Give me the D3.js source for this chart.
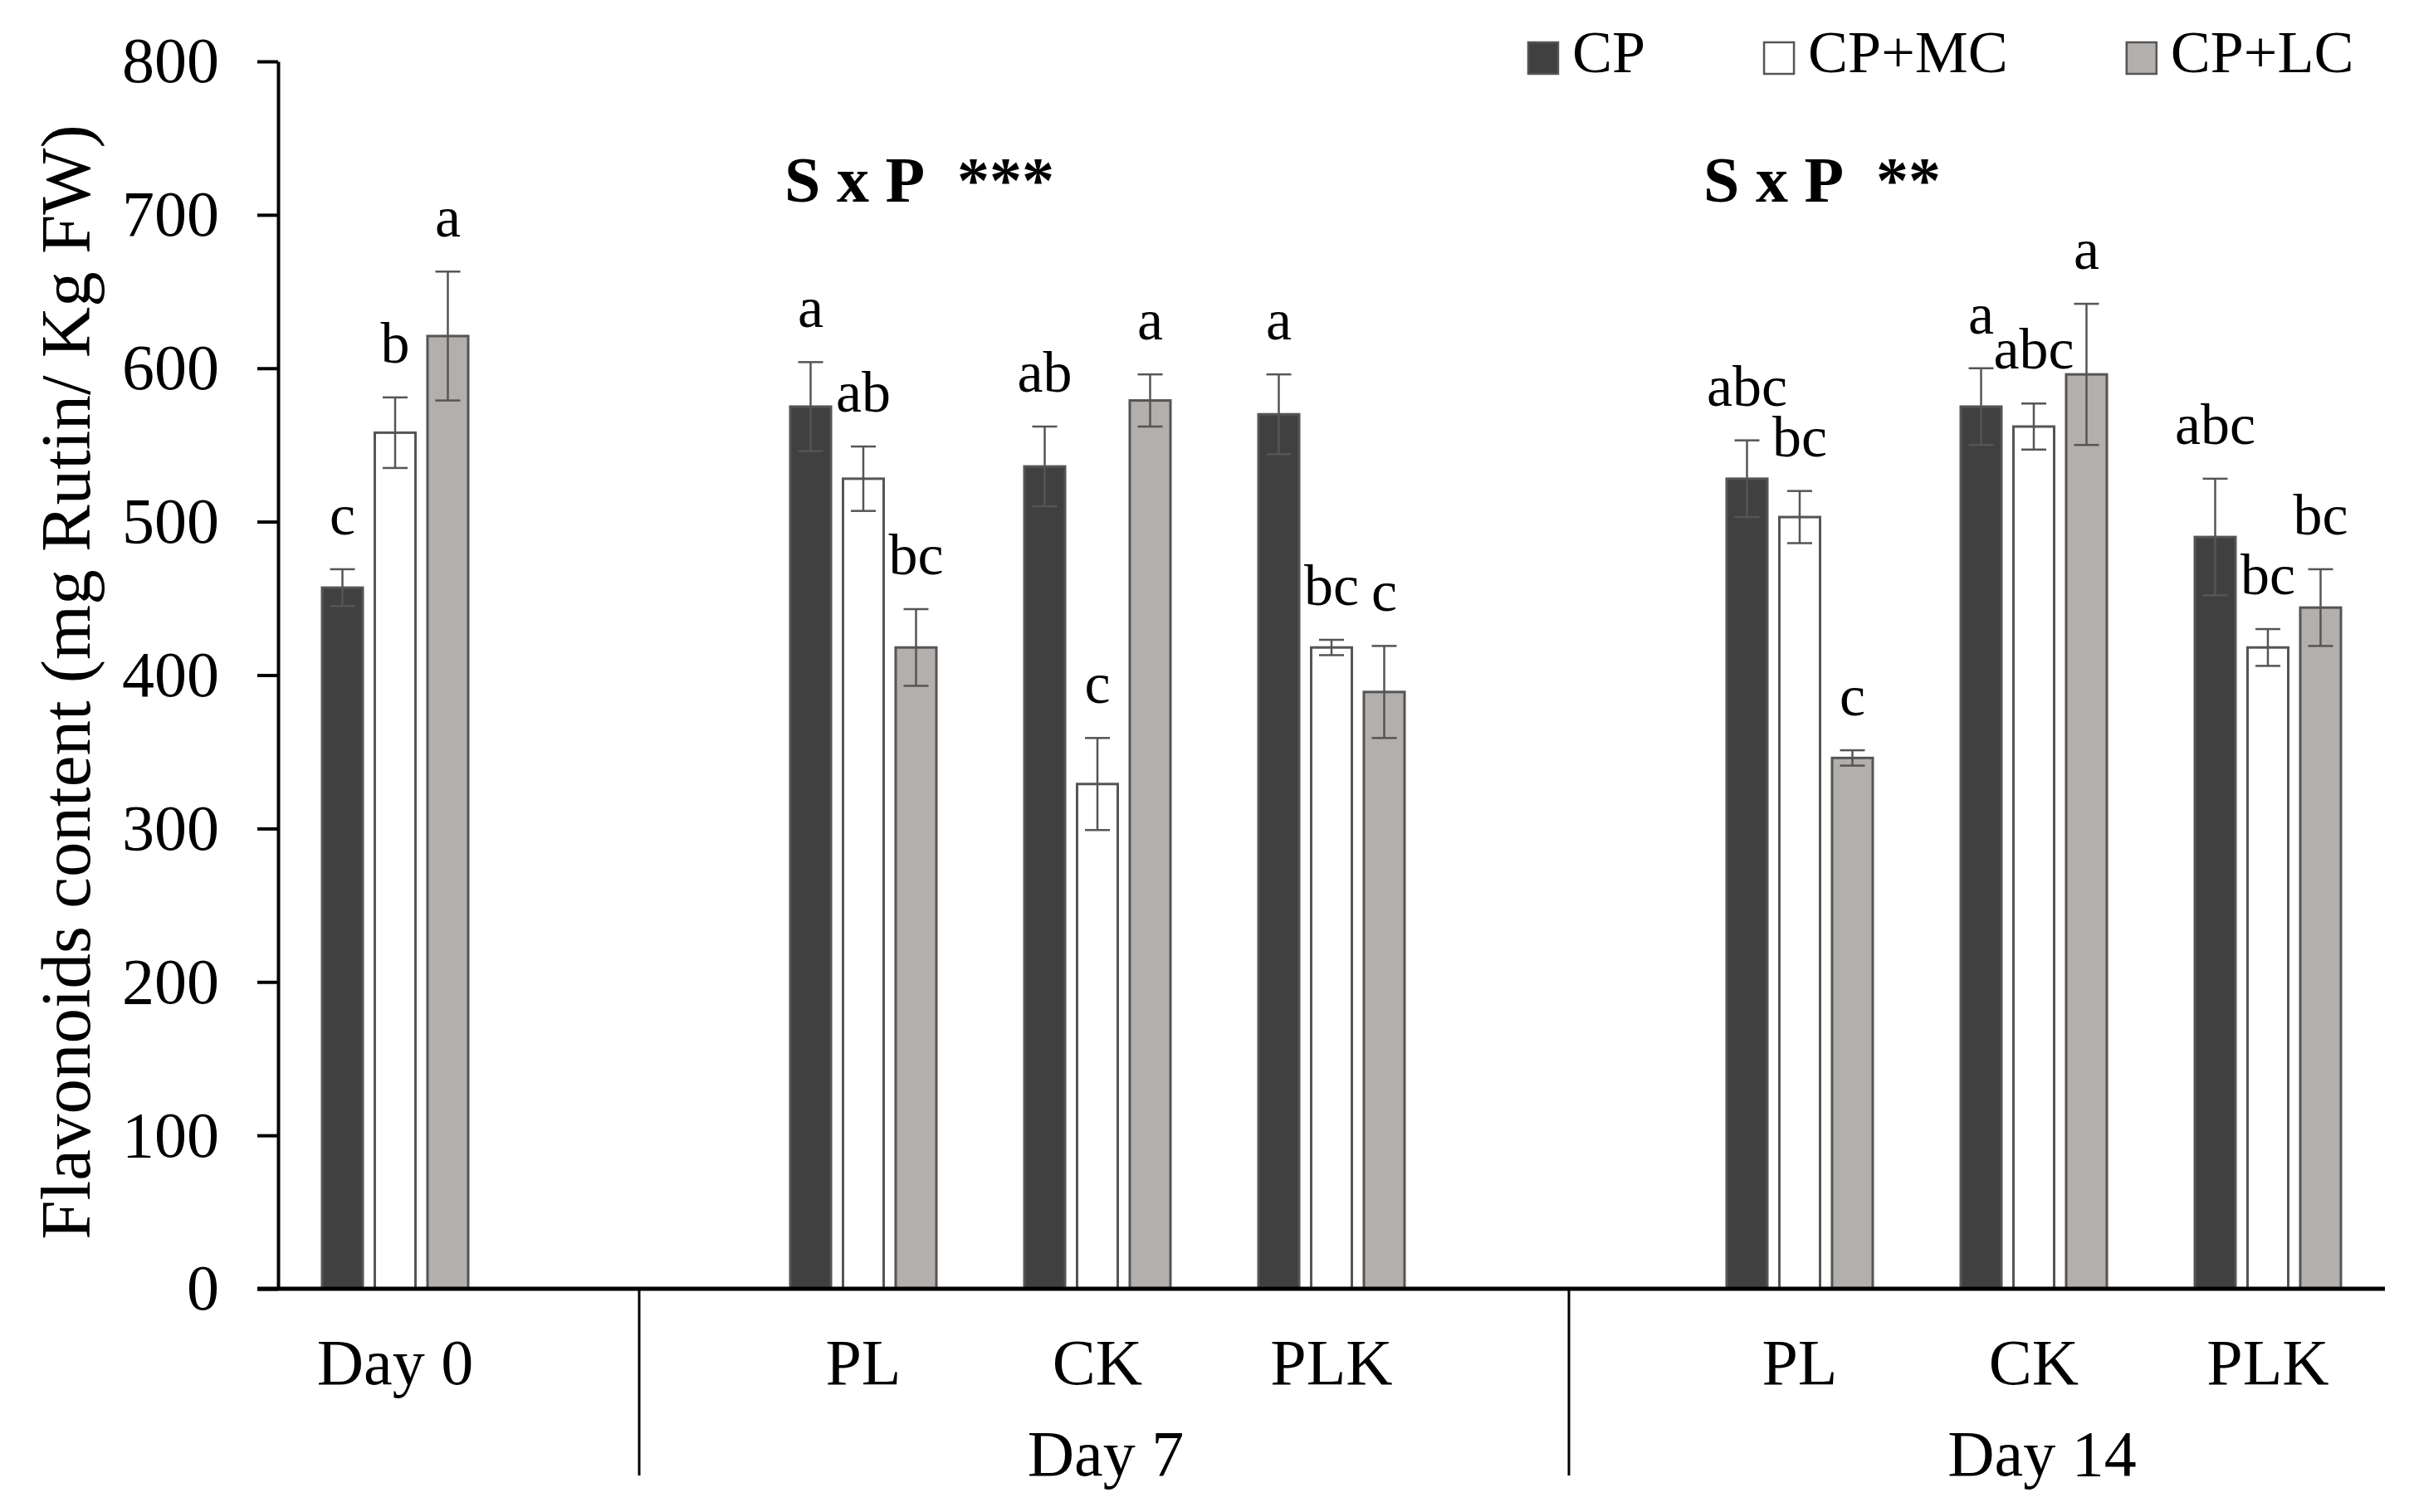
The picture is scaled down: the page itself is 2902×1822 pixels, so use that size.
<!DOCTYPE html>
<html>
<head>
<meta charset="utf-8">
<script src="https://cdn.jsdelivr.net/npm/d3@7"></script>
<style>
  body { margin: 0; background: #fff; }
  text { font-family: "Liberation Serif", "Times New Roman", serif; fill: #000; }
</style>
</head>
<body>
<svg id="chart" width="2902" height="1822"></svg>
<script>
// slots along the x axis, "" = empty gap slot
var slots     = ["d0", "g1", "pl7", "ck7", "plk7", "g2", "pl14", "ck14", "plk14"];
var slotLabel = ["Day 0", "", "PL", "CK", "PLK", "", "PL", "CK", "PLK"];
var groups    = ["Day 7", "Day 14"];
var groupSlot = ["ck7", "ck14"];
var series    = ["CP", "CP+MC", "CP+LC"];
var yTicks    = [0, 100, 200, 300, 400, 500, 600, 700, 800];
var notes     = ["S x P\u00a0\u00a0***", "S x P\u00a0\u00a0**"];

// bars live in these slots (same order as the value arrays)
var barSlots  = ["d0", "pl7", "ck7", "plk7", "pl14", "ck14", "plk14"];

var cpMean  = [457, 575, 536, 570, 528, 575, 490];
var mcMean  = [558, 528, 329, 418, 503, 562, 418];
var lcMean  = [621, 418, 579, 389, 346, 596, 444];
var cpErr   = [12, 29, 26, 26, 25, 25, 38];
var mcErr   = [23, 21, 30, 5, 17, 15, 12];
var lcErr   = [42, 25, 17, 30, 5, 46, 25];
var cpLetter = ["c", "a", "ab", "a", "abc", "a", "abc"];
var mcLetter = ["b", "ab", "c", "bc", "bc", "abc", "bc"];
var lcLetter = ["a", "bc", "a", "c", "c", "a", "bc"];

var means   = [cpMean, mcMean, lcMean];
var errs    = [cpErr, mcErr, lcErr];
var letters = [cpLetter, mcLetter, lcLetter];
var fills   = ["#404040", "#ffffff", "#b3afac"];

var svg = d3.select("#chart");

var x = d3.scaleBand().domain(slots).range([335, 2873]).padding(0);
var x1 = d3.scaleBand().domain(series).range([0, 176]).paddingInner(0.228);
var y = d3.scaleLinear().domain([0, 800]).range([1553, 74]);

var font = 78;

// y axis
var yAxis = svg.append("g")
    .attr("transform", "translate(335,0)")
    .call(d3.axisLeft(y).tickValues(yTicks).tickSize(25).tickSizeOuter(0).tickPadding(46));
yAxis.select(".domain").attr("stroke", "#000").attr("stroke-width", 4);
yAxis.selectAll(".tick line").attr("stroke", "#000").attr("stroke-width", 4);
yAxis.selectAll(".tick text")
    .style("font-family", '"Liberation Serif", "Times New Roman", serif')
    .style("font-size", font + "px")
    .attr("fill", "#000");

svg.append("text")
    .attr("transform", "rotate(-90)")
    .attr("x", -822)
    .attr("y", 108)
    .attr("text-anchor", "middle")
    .style("font-size", "85px")
    .text("Flavonoids content (mg Rutin/ Kg FW)");

// bars
var rows = [];
series.forEach(function(s, si) {
    barSlots.forEach(function(k, i) {
        rows.push({ slot: k, s: s, si: si, v: means[si][i], e: errs[si][i], l: letters[si][i] });
    });
});

function bx(d) {
    return x(d.slot) + x.bandwidth() / 2 - 88 + x1(d.s);
}

svg.selectAll(".bar").data(rows).enter().append("rect")
    .attr("class", "bar")
    .attr("x", bx)
    .attr("y", function(d) { return y(d.v); })
    .attr("width", x1.bandwidth())
    .attr("height", function(d) { return y(0) - y(d.v); })
    .attr("fill", function(d) { return fills[d.si]; })
    .attr("stroke", "#555")
    .attr("stroke-width", 3);

// error bars
var eb = svg.selectAll(".err").data(rows).enter().append("g")
    .attr("class", "err")
    .attr("stroke", "#555")
    .attr("stroke-width", 2.5);
eb.append("line")
    .attr("x1", function(d) { return bx(d) + x1.bandwidth() / 2; })
    .attr("x2", function(d) { return bx(d) + x1.bandwidth() / 2; })
    .attr("y1", function(d) { return y(d.v - d.e); })
    .attr("y2", function(d) { return y(d.v + d.e); });
[-1, 1].forEach(function(sg) {
    eb.append("line")
        .attr("x1", function(d) { return bx(d) + x1.bandwidth() / 2 - 15; })
        .attr("x2", function(d) { return bx(d) + x1.bandwidth() / 2 + 15; })
        .attr("y1", function(d) { return y(d.v + sg * d.e); })
        .attr("y2", function(d) { return y(d.v + sg * d.e); });
});

// significance letters
svg.selectAll(".letter").data(rows).enter().append("text")
    .attr("class", "letter")
    .attr("x", function(d) { return bx(d) + x1.bandwidth() / 2; })
    .attr("y", function(d) { return y(d.v + d.e) - 42; })
    .attr("text-anchor", "middle")
    .style("font-size", "70px")
    .text(function(d) { return d.l; });

// x axis
svg.append("line")
    .attr("x1", 310).attr("x2", 2873)
    .attr("y1", y(0)).attr("y2", y(0))
    .attr("stroke", "#000").attr("stroke-width", 5);

var xAxis = svg.append("g")
    .attr("transform", "translate(0," + y(0) + ")")
    .call(d3.axisBottom(x)
        .tickValues(slots.filter(function(s, i) { return slotLabel[i] !== ""; }))
        .tickFormat(function(s) { return slotLabel[slots.indexOf(s)]; })
        .tickSize(0).tickPadding(60));
xAxis.select(".domain").remove();
xAxis.selectAll(".tick text")
    .style("font-family", '"Liberation Serif", "Times New Roman", serif')
    .style("font-size", font + "px")
    .attr("fill", "#000");

// group separators
[["g1", 12], ["g2", 4]].forEach(function(g) {
    var sx = x(g[0]) + x.bandwidth() / 2 + g[1];
    svg.append("line")
        .attr("x1", sx).attr("x2", sx)
        .attr("y1", y(0)).attr("y2", 1778)
        .attr("stroke", "#000").attr("stroke-width", 3);
});

groups.forEach(function(g, i) {
    svg.append("text")
        .attr("x", x(groupSlot[i]) + x.bandwidth() / 2 + 10)
        .attr("y", 1778)
        .attr("text-anchor", "middle")
        .style("font-size", font + "px")
        .text(g);
});

// interaction annotations
[["pl7", -95], ["pl14", -116]].forEach(function(a, i) {
    svg.append("text")
        .attr("x", x(a[0]) + x.bandwidth() / 2 + a[1])
        .attr("y", 243)
        .style("font-size", "78px")
        .style("font-weight", "bold")
        .text(notes[i]);
});

// legend
var lx = 1841;
series.forEach(function(s, i) {
    svg.append("rect")
        .attr("x", lx).attr("y", 51)
        .attr("width", 36).attr("height", 38)
        .attr("fill", fills[i])
        .attr("stroke", "#555").attr("stroke-width", 2.5);
    var t = svg.append("text")
        .attr("x", lx + 53).attr("y", 87)
        .style("font-size", "72px")
        .text(s);
    lx = lx + 53 + t.node().getComputedTextLength() + 143;
});
</script>
</body>
</html>
